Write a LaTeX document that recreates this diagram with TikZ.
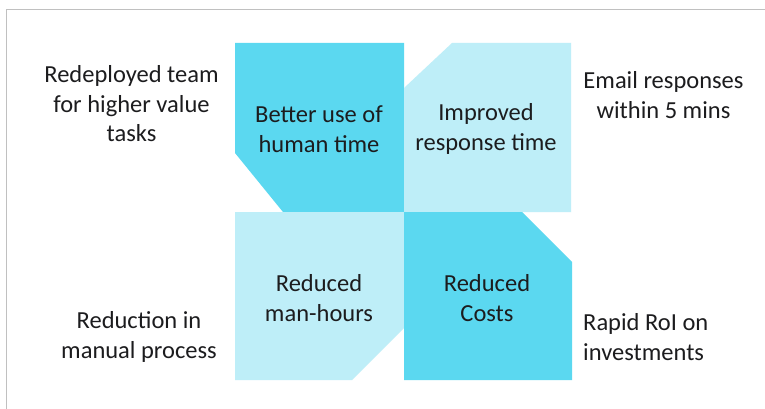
\documentclass[tikz,border=0pt]{standalone}
\usepackage{fontspec}
\setmainfont{Carlito}
\definecolor{tiledark}{RGB}{91,216,240}
\definecolor{tilelight}{RGB}{190,238,248}
\definecolor{frameline}{RGB}{192,192,192}
\definecolor{ink}{RGB}{28,28,30}
\begin{document}
\begin{tikzpicture}[x=1pt,y=-1pt,
  txt/.style={align=center, text=ink, font=\fontsize{24.5}{29.5}\selectfont, inner sep=0pt},
  txtleft/.style={txt, align=left, anchor=west}]
\useasboundingbox (0,0) rectangle (765,409);
\fill[white] (0,0) rectangle (765,409);
% frame on the top and left sides
\draw[frameline, line width=1.5pt] (6.5,409) -- (6.5,9.5) -- (765,9.5);

% four tiles with one clipped corner each
\fill[tiledark]  (235,43) -- (404,43) -- (404,212) -- (283,212) -- (235,153) -- cycle;
\fill[tilelight] (452,43) -- (571,43) -- (571,212) -- (404,212) -- (404,88) -- cycle;
\fill[tilelight] (235,212) -- (404,212) -- (404,328) -- (352,380) -- (235,380) -- cycle;
\fill[tiledark]  (404,212) -- (522,212) -- (572,262) -- (572,380) -- (404,380) -- cycle;

% tile captions
\node[txt] (tl) at (319,129) {Better use of\\human time};
\node[txt] (tr) at (486,129) {Improved\\response time};
\node[txt] (bl) at (319,298) {Reduced\\man-hours};
\node[txt] (br) at (487,298) {Reduced\\Costs};

% outer notes
\node[txt] (ntl) at (131.5,104) {Redeployed team\\for higher value\\tasks};
\node[txt] (ntr) at (663.5,95) {Email responses\\within 5 mins};
\node[txt] (nbl) at (139,337) {Reduction in\\manual process};
\node[txtleft] (nbr) at (583,337) {Rapid RoI on\\investments};
\end{tikzpicture}
\end{document}
